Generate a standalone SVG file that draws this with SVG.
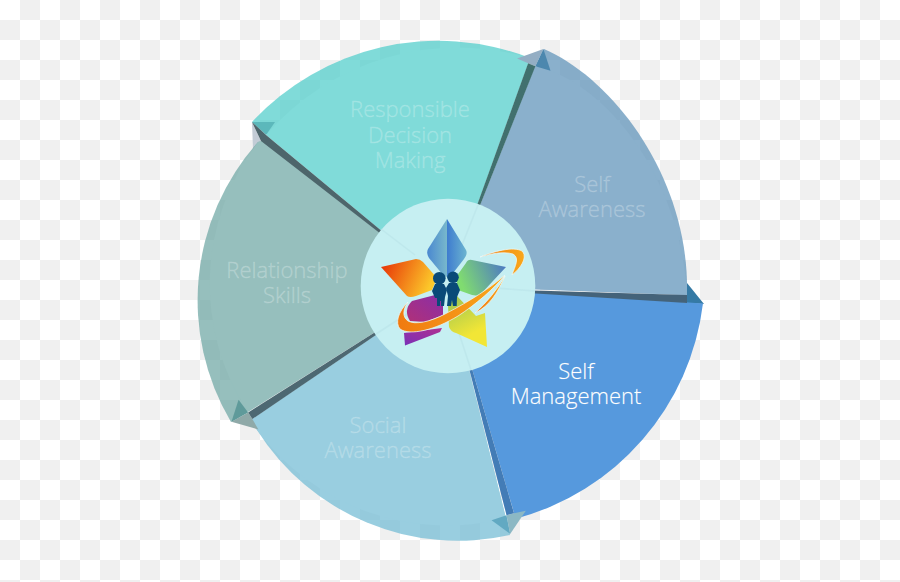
<svg xmlns="http://www.w3.org/2000/svg" width="900" height="582" viewBox="0 0 900 582">
<style>
.lbl{font-family:"Open Sans","Noto Sans","Liberation Sans",sans-serif;font-weight:300;font-size:22px;text-anchor:middle;fill:#fff;fill-opacity:.2;stroke:#fff;stroke-opacity:.2;stroke-width:.5}
.lbl.on{fill-opacity:1;stroke-opacity:.3}
.spoke{stroke:#b8e2e8;stroke-width:1.5;opacity:.5;fill:none}
</style>
<defs>
<pattern id="chk" width="40" height="40" patternUnits="userSpaceOnUse"><rect width="40" height="40" fill="#fff"/><rect x="20" width="20" height="20" fill="#f0f0f0"/><rect y="20" width="20" height="20" fill="#f0f0f0"/></pattern>
<path id="outer" d="M252,122A254,254 0 0 1 530,58L448,286Z"/>
<path id="inner" d="M266,135A253,253 0 0 1 530,58L448,286Z"/>
<path id="tipd" d="M252,122L275,122L266,135Z"/>
<path id="tipl" d="M252,122L261,141L253,150Z"/>
<path id="tipm" d="M252,122L266,135L261,141L253,150Z"/>
<path id="band" d="M252,122L266,135L448,286L261,141Z"/>
<path id="bandb" d="M266,135L448,286L261,141Z"/>
<linearGradient id="g1" x1="0" x2="1" y1="0" y2="0"><stop offset="0" stop-color="#4a88d0"/><stop offset="1" stop-color="#78b8cc"/></linearGradient>
<linearGradient id="g2" x1="0" x2="1" y1="0" y2="0"><stop offset="0" stop-color="#3e7ccf"/><stop offset="1" stop-color="#6cb4d0"/></linearGradient>
<linearGradient id="g3" x1="0" x2="1" y1="0" y2=".3"><stop offset="0" stop-color="#e62c05"/><stop offset="1" stop-color="#fcc82a"/></linearGradient>
<linearGradient id="g4" x1="0" x2="1" y1=".3" y2="0"><stop offset="0" stop-color="#80dc70"/><stop offset="1" stop-color="#4a74c8"/></linearGradient>
<linearGradient id="g5" x1=".3" x2=".7" y1="0" y2="1"><stop offset="0" stop-color="#a4c850"/><stop offset=".75" stop-color="#f2e636"/></linearGradient>
<linearGradient id="g6" x1="0" x2="1" y1="1" y2="0"><stop offset="0" stop-color="#b03078"/><stop offset="1" stop-color="#8a2fa8"/></linearGradient>
<linearGradient id="g8" x1="0" x2="1" y1="1" y2="0"><stop offset="0" stop-color="#7a30b8"/><stop offset="1" stop-color="#b03090"/></linearGradient>
<linearGradient id="g7" x1="0" x2="1" y1="0" y2="0"><stop offset="0" stop-color="#f07a10"/><stop offset="1" stop-color="#f8a81c"/></linearGradient>
</defs>
<rect id="background" width="900" height="582" fill="url(#chk)"/>

<g id="node-responsible-decision-making">
<use href="#outer" fill="#4accc9" fill-opacity=".7"/><use href="#inner" fill="#80dbd9"/>
<use href="#tipd" fill="#5cb8bb"/><use href="#tipl" fill="#c3ccd6"/>
<text class="lbl" x="410" y="117">Responsible</text><text class="lbl" x="410" y="143">Decision</text><text class="lbl" x="410" y="168">Making</text>
</g>
<g id="node-self-awareness">
<path d="M544,49C615,80 690,180 687,295L448,286Z" fill="#588eb6" fill-opacity=".7"/>
<path d="M535,66C600,80 680,170 687,295L448,286Z" fill="#8ab0cc"/>
<g transform="rotate(72 448 286)"><use href="#tipm" fill="#94aec4"/><use href="#tipd" fill="#4c87ae"/></g>
<text class="lbl" x="592" y="192">Self</text><text class="lbl" x="592" y="217">Awareness</text>
</g>
<g id="node-self-management">
<path d="M687,283L704,304L687,303Z" fill="#357aa5"/>
<g transform="rotate(144 448 286)"><use href="#outer" fill="#5699dd"/></g>
<text class="lbl on" x="576" y="379">Self</text><text class="lbl on" x="576" y="404">Management</text>
</g>
<g id="node-social-awareness">
<path d="M510,535A238,238 0 0 1 257,430L251,420L448,286Z" fill="#6db9d3" fill-opacity=".7"/>
<path d="M506,518A236,236 0 0 1 257,430L251,420L448,286Z" fill="#99cee0"/>
<g transform="rotate(216 448 286)"><use href="#tipm" fill="#8cb8c4"/><use href="#tipd" fill="#62a9c2"/></g>
<text class="lbl" x="378" y="433">Social</text><text class="lbl" x="378" y="458">Awareness</text>
</g>
<g id="node-relationship-skills">
<path d="M231,422A238,238 0 0 1 258,142L262,141L448,286Z" fill="#69a4a1" fill-opacity=".7"/>
<path d="M248,412A233,233 0 0 1 258,142L262,141L448,286Z" fill="#96bfbd"/>
<g transform="rotate(288 448 286)"><use href="#tipm" fill="#8fa9a8"/><use href="#tipd" fill="#5f9a9a"/></g>
<text class="lbl" x="287" y="278">Relationship</text><text class="lbl" x="287" y="303">Skills</text>
</g>

<g id="connectors">
<use href="#band" fill="#4d656b"/>
<use href="#bandb" fill="#41706e" transform="rotate(72 448 286)"/>
<path d="M448,288L687,295L687,303Z" fill="#44637a"/>
<use href="#bandb" fill="#437cb6" transform="rotate(216 448 286)"/>
<use href="#bandb" fill="#4d6872" transform="rotate(288 448 286)"/>
</g>

<g id="node-hub">
<circle cx="448" cy="286" r="87.3" fill="#c6eff2"/>
<g class="spoke"><path d="M478,205L462,245"/><path d="M535,291L495,288"/><path d="M471,370L458,330"/><path d="M376,334L410,312"/><path d="M381,229L415,255"/></g>
<path d="M447,219L466,250Q468,254 464,259L450,277L447,277Z" fill="url(#g2)"/>
<path d="M447,219L428,249Q426,253 429,258L443,275L447,277Z" fill="url(#g1)"/>
<path d="M381,267L416,259Q420,259 423,262L437,278L432,290L416,296Q410,298 407,296Z" fill="url(#g3)"/>
<path d="M506,267L472,260Q468,259 466,263L456,277L458,290L472,295L479,296Z" fill="url(#g4)"/>
<path d="M487,347L485,313L476,316L457,296L448,305L449,327Q451,332 456,333Z" fill="url(#g5)"/>
<path d="M412,301L435,295L443,303L443,315L425,322L410,321Q403,310 412,301Z" fill="url(#g6)"/>
<path d="M405,345.500L404,333L442,328L440,332Z" fill="url(#g8)"/>
<g fill="url(#g7)" stroke="#eefafa" stroke-width=".7">
<path d="M408,302C398,312 395,323 400,329C410,336 435,330 458,316C475,305 495,288 505,275C490,288 472,300 445,314C430,322 415,325 408,321C402,317 403,309 408,302Z"/>
<path d="M480,257C497,250 517,246 523,252C527,258 521,268 512,275C515,266 520,258 513,254C503,251 490,254 480,257Z"/>
<path d="M475,313C490,306 498,292 505,276C497,290 487,302 475,313Z"/>
</g>
<g fill="#0a4a78">
<circle cx="439.300" cy="278.300" r="6.300"/><circle cx="453" cy="277.300" r="5.800"/>
<path d="M435,284L444,284L447,290L445,297L444,306L441,306L441,301L440,301L440,306L437,306L437,298L435,298L432,291Z"/>
<path d="M449,283L457,283L460,290L457,297L456.700,306L453,306L452,300L451,306L447,306L448,296L446,288Z"/>
</g>
</g>
</svg>
